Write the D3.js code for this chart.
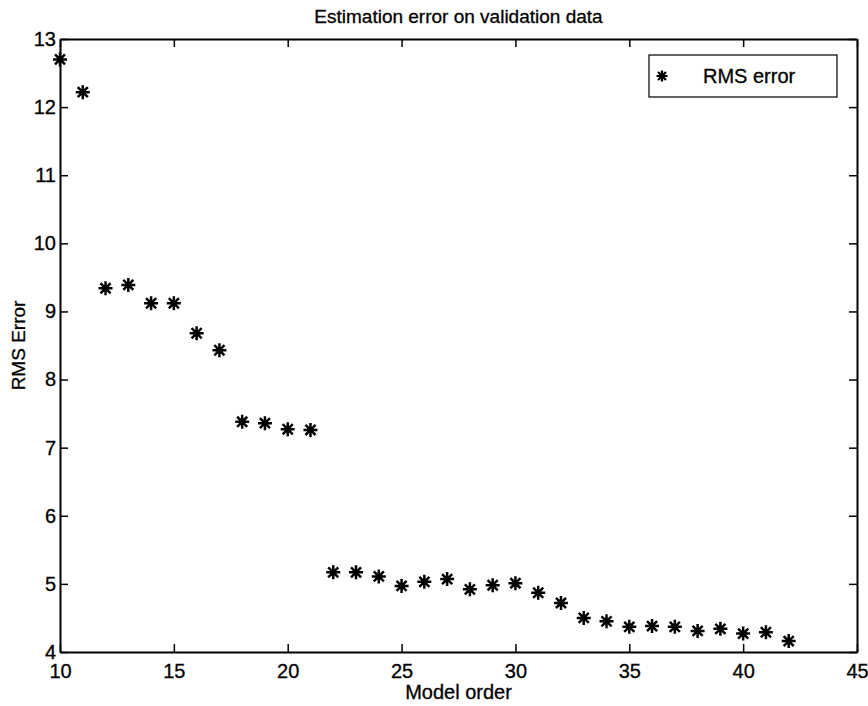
<!DOCTYPE html>
<html>
<head>
<meta charset="utf-8">
<script src="https://cdn.jsdelivr.net/npm/d3@7"></script>
<style>
  body { margin: 0; background: #fff; }
  text { font-family: "Liberation Sans", Arial, Helvetica, sans-serif; fill: #000; stroke: #000; stroke-width: 0.3px; }
</style>
</head>
<body>
<svg id="chart"></svg>
<script>
const modelOrder = [10, 11, 12, 13, 14, 15, 16, 17, 18, 19, 20, 21, 22, 23, 24, 25,
  26, 27, 28, 29, 30, 31, 32, 33, 34, 35, 36, 37, 38, 39, 40, 41, 42];
const rmsError = [12.70, 12.22, 9.34, 9.39, 9.12, 9.12, 8.68, 8.43, 7.38, 7.36, 7.27, 7.26,
  5.17, 5.17, 5.11, 4.97, 5.03, 5.07, 4.92, 4.98, 5.01, 4.87, 4.72, 4.50,
  4.45, 4.37, 4.38, 4.37, 4.31, 4.34, 4.27, 4.29, 4.16];
const xTicks = [10, 15, 20, 25, 30, 35, 40, 45];
const yTicks = [4, 5, 6, 7, 8, 9, 10, 11, 12, 13];

const width = 868;
const height = 706;
const margin = { top: 39, right: 11, bottom: 54, left: 60 };

const svg = d3.select("#chart").attr("width", width).attr("height", height);

const x = d3.scaleLinear().domain([10, 45]).range([margin.left, width - margin.right]);
const y = d3.scaleLinear().domain([4, 13]).range([height - margin.bottom, margin.top]);

const tickLen = 8;

// box + ticks on all four sides (matlab style)
svg.append("g")
  .attr("transform", `translate(0,${y(4)})`)
  .call(d3.axisBottom(x).tickValues(xTicks).tickSize(-tickLen).tickPadding(12).tickSizeOuter(0))
  .call(g => g.select(".domain").attr("stroke-width", 2))
  .call(g => g.selectAll("line").attr("stroke-width", 1.5))
  .call(g => g.selectAll("text").style("font-size", "20px"));

svg.append("g")
  .attr("transform", `translate(0,${y(13)})`)
  .call(d3.axisTop(x).tickValues(xTicks).tickSize(-tickLen).tickFormat("").tickSizeOuter(0))
  .call(g => g.select(".domain").attr("stroke-width", 2))
  .call(g => g.selectAll("line").attr("stroke-width", 1.5));

svg.append("g")
  .attr("transform", `translate(${x(10)},0)`)
  .call(d3.axisLeft(y).tickValues(yTicks).tickSize(-tickLen).tickPadding(4).tickSizeOuter(0))
  .call(g => g.select(".domain").attr("stroke-width", 2))
  .call(g => g.selectAll("line").attr("stroke-width", 1.5))
  .call(g => g.selectAll("text").style("font-size", "20px"));

svg.append("g")
  .attr("transform", `translate(${x(45)},0)`)
  .call(d3.axisRight(y).tickValues(yTicks).tickSize(-tickLen).tickFormat("").tickSizeOuter(0))
  .call(g => g.select(".domain").attr("stroke-width", 2))
  .call(g => g.selectAll("line").attr("stroke-width", 1.5));

// asterisk marker, + and x overlaid
function star(cx, cy, r) {
  const d = r * 0.72;
  return `M${cx - r},${cy}L${cx + r},${cy}M${cx},${cy - r}L${cx},${cy + r}` +
    `M${cx - d},${cy - d}L${cx + d},${cy + d}M${cx - d},${cy + d}L${cx + d},${cy - d}`;
}

const points = modelOrder.map((m, i) => ({ m: m, v: rmsError[i] }));

svg.append("g")
  .selectAll("path")
  .data(points)
  .enter()
  .append("path")
  .attr("d", d => star(x(d.m), y(d.v), 7))
  .attr("stroke", "#000")
  .attr("stroke-width", 2.5)
  .attr("fill", "none");

// title and labels
svg.append("text")
  .attr("x", (x(10) + x(45)) / 2)
  .attr("y", 23)
  .attr("text-anchor", "middle")
  .style("font-size", "19px")
  .text("Estimation error on validation data");

svg.append("text")
  .attr("x", (x(10) + x(45)) / 2)
  .attr("y", 699)
  .attr("text-anchor", "middle")
  .style("font-size", "20px")
  .text("Model order");

svg.append("text")
  .attr("transform", `translate(25,${(y(4) + y(13)) / 2}) rotate(-90)`)
  .attr("text-anchor", "middle")
  .style("font-size", "19px")
  .text("RMS Error");

// legend
const legend = svg.append("g");
legend.append("rect")
  .attr("x", 649).attr("y", 55)
  .attr("width", 188).attr("height", 42)
  .attr("fill", "#fff")
  .attr("stroke", "#000")
  .attr("stroke-width", 1.2);
legend.append("path")
  .attr("d", star(662, 76, 5.5))
  .attr("stroke", "#000")
  .attr("stroke-width", 2.2)
  .attr("fill", "none");
legend.append("text")
  .attr("x", 703).attr("y", 83)
  .style("font-size", "20px")
  .text("RMS error");
</script>
</body>
</html>
